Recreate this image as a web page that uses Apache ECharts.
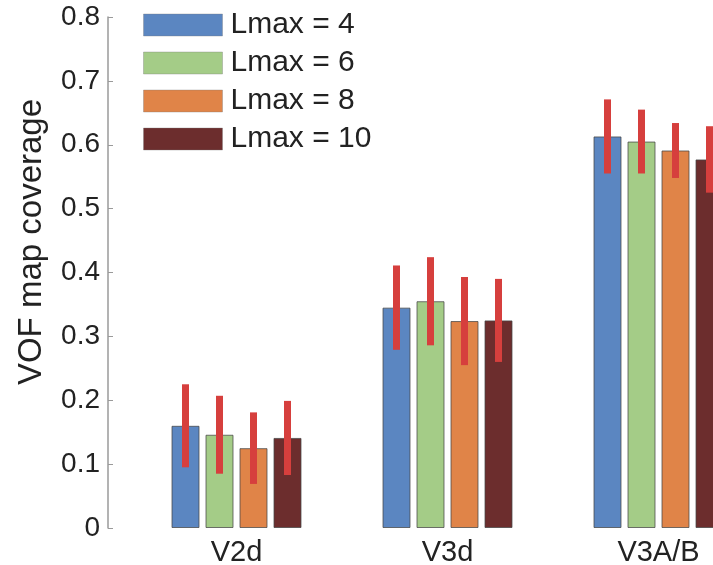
<!DOCTYPE html>
<html>
<head>
<meta charset="utf-8">
<script src="https://cdn.jsdelivr.net/npm/echarts@6/dist/echarts.min.js"></script>
<style>
html,body{margin:0;padding:0;background:#fff;}
#c{width:713px;height:565px;}
</style>
</head>
<body>
<div id="c"></div>
<script>
const categories = ['V2d', 'V3d', 'V3A/B'];
const seriesNames = ['Lmax = 4', 'Lmax = 6', 'Lmax = 8', 'Lmax = 10'];
const lmax4 = [0.160, 0.345, 0.613];
const lmax6 = [0.146, 0.355, 0.605];
const lmax8 = [0.125, 0.324, 0.591];
const lmax10 = [0.141, 0.325, 0.577];
const err4 = [0.065, 0.066, 0.058];
const err6 = [0.061, 0.069, 0.050];
const err8 = [0.056, 0.069, 0.043];
const err10 = [0.058, 0.065, 0.052];
const yTicks = [0, 0.1, 0.2, 0.3, 0.4, 0.5, 0.6, 0.7, 0.8];

const values = [lmax4, lmax6, lmax8, lmax10];
const errors = [err4, err6, err8, err10];
const colors = ['#5b86c1', '#a4cc87', '#e08448', '#6c2d2d'];
const FONT = '"Liberation Sans", Arial, Helvetica, sans-serif';
const BAR_W = 28, BAR_GAP = 6;

const chart = echarts.init(document.getElementById('c'), null, {renderer: 'canvas'});

const series = [];
values.forEach((vals, i) => {
  series.push({
    name: seriesNames[i],
    type: 'bar',
    data: vals,
    barWidth: BAR_W,
    barGap: (BAR_GAP / BAR_W * 100) + '%',
    itemStyle: {color: colors[i], borderColor: 'rgba(70,70,70,0.75)', borderWidth: 1},
    z: 2
  });
});
values.forEach((vals, i) => {
  const errData = vals.map((v, k) => [k, v - errors[i][k], v + errors[i][k]]);
  series.push({
    type: 'custom',
    name: seriesNames[i] + ' err',
    data: errData,
    z: 5,
    silent: true,
    renderItem: function (params, api) {
      const off = (i - 1.5) * (BAR_W + BAR_GAP);
      const p1 = api.coord([api.value(0), api.value(1)]);
      const p2 = api.coord([api.value(0), api.value(2)]);
      return {
        type: 'line',
        shape: {x1: p1[0] + off, y1: p1[1], x2: p2[0] + off, y2: p2[1]},
        style: {stroke: '#d63f3d', lineWidth: 7}
      };
    }
  });
});

chart.setOption({
  animation: false,
  backgroundColor: '#ffffff',
  grid: {left: 131, top: 17, width: 633, bottom: 37, containLabel: false, outerBoundsMode: 'none'},
  legend: {
    data: seriesNames.map(n => ({name: n, icon: 'rect'})),
    orient: 'vertical',
    left: 143,
    top: 10,
    itemWidth: 79,
    itemHeight: 22,
    itemGap: 8,
    backgroundColor: '#ffffff',
    padding: 0,
    itemStyle: {borderColor: 'rgba(120,120,120,0.35)', borderWidth: 1},
    textStyle: {fontFamily: FONT, fontSize: 30, color: '#222', padding: [0, 0, 0, 3]}
  },
  xAxis: {
    type: 'category',
    data: categories,
    axisLine: {show: false},
    axisTick: {show: false},
    axisLabel: {fontFamily: FONT, fontSize: 29, color: '#222', margin: 10}
  },
  yAxis: {
    type: 'value',
    min: yTicks[0],
    max: yTicks[yTicks.length - 1],
    interval: 0.1,
    offset: 23,
    splitLine: {show: false},
    axisLine: {show: true, lineStyle: {color: '#9a9a9a', width: 1.5}},
    axisTick: {show: true, inside: true, length: 5, lineStyle: {color: '#9a9a9a', width: 1}},
    axisLabel: {fontFamily: FONT, fontSize: 28, color: '#222', margin: 8}
  },
  graphic: [{
    type: 'text',
    x: 32,
    y: 242,
    rotation: Math.PI / 2,
    style: {
      text: 'VOF map coverage',
      font: '33px ' + FONT,
      fill: '#222',
      align: 'center',
      verticalAlign: 'middle'
    }
  }],
  series: series
});
</script>
</body>
</html>
